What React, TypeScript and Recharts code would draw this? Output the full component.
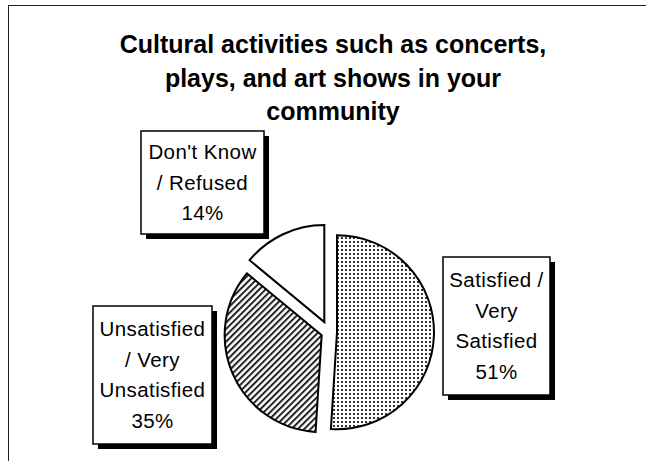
import { Cell, Pie, PieChart } from 'recharts'

const categories = ['Satisfied / Very Satisfied', 'Unsatisfied / Very Unsatisfied', "Don't Know / Refused"]
const shares = [51, 35, 14]
const labelLines = [
  ['Satisfied /', 'Very', 'Satisfied'],
  ['Unsatisfied', '/ Very', 'Unsatisfied'],
  ["Don't Know", '/ Refused'],
]
const titleLines = ['Cultural activities such as concerts,', 'plays, and art shows in your', 'community']

const slices = categories.map((name, i) => ({ name, value: shares[i] }))

// layout
const W = 646
const H = 461
const CX = 324
const CY = 327
const R = 97
const FILLS = ['url(#dots)', 'url(#stripes)', '#fff']
const EXPLODE = [8, 8, 11]
const BOXES = [
  { dx: 172.5, dy: -1, w: 107, h: 138 },
  { dx: -171.5, dy: 48, w: 119, h: 138 },
  { dx: -121.5, dy: -144.5, w: 123, h: 103 },
]
const FONT = '"Liberation Sans", Arial, sans-serif'

const total = shares.reduce((a, b) => a + b, 0)

// middle angle of a slice, pie starts at 12 o'clock and runs clockwise
function midAngle(i: number) {
  const before = shares.slice(0, i).reduce((a, b) => a + b, 0)
  return 90 - ((before + shares[i] / 2) / total) * 360
}

function renderLabel(props: any) {
  const { index, value } = props
  const b = BOXES[index]
  const mx = CX + b.dx
  const my = CY + b.dy
  const x = mx - b.w / 2
  const y = my - b.h / 2
  const lines = [...labelLines[index], `${value}%`]
  return (
    <g key={`label-${index}`}>
      <rect x={x + 5} y={y + 5} width={b.w} height={b.h} fill="#000" />
      <rect x={x} y={y} width={b.w} height={b.h} fill="#fff" stroke="#000" strokeWidth={1.5} />
      {lines.map((t, k) => (
        <text
          key={k}
          x={mx}
          y={my + (k - (lines.length - 1) / 2) * 30.5 + 7}
          textAnchor="middle"
          fontFamily={FONT}
          fontSize={20.5}
          letterSpacing={0.4}
          fill="#000"
        >
          {t}
        </text>
      ))}
    </g>
  )
}

export default function App() {
  return (
    <div style={{ position: 'absolute', left: 0, top: 0, width: W, height: H, background: '#fff', overflow: 'hidden' }}>
      <div
        style={{
          position: 'absolute',
          left: 8,
          top: 5,
          right: 0,
          bottom: 0,
          borderLeft: '1px solid #222',
          borderTop: '1px solid #222',
        }}
      />
      <div
        style={{
          position: 'absolute',
          left: 33,
          top: 28,
          width: 600,
          textAlign: 'center',
          fontFamily: FONT,
          fontWeight: 'bold',
          fontSize: 25,
          lineHeight: '33.5px',
          color: '#000',
        }}
      >
        {titleLines.map((t, i) => (
          <div key={i} style={{ whiteSpace: 'nowrap' }}>{t}</div>
        ))}
      </div>
      <div style={{ position: 'absolute', left: 0, top: 0 }}>
        <PieChart width={W} height={H}>
          <defs>
            <pattern id="dots" width={4} height={4} patternUnits="userSpaceOnUse">
              <rect width={4} height={4} fill="#fff" />
              <rect x={1} y={1} width={2} height={2} fill="#333" />
            </pattern>
            <pattern id="stripes" width={4.5} height={4.5} patternUnits="userSpaceOnUse" patternTransform="rotate(45)">
              <rect width={4.5} height={4.5} fill="#fff" />
              <rect width={2} height={4.5} fill="#222" />
            </pattern>
          </defs>
          {slices.map((s, i) => {
            const a = (midAngle(i) * Math.PI) / 180
            const last = i === slices.length - 1
            return (
              <Pie
                key={s.name}
                data={slices}
                dataKey="value"
                nameKey="name"
                cx={CX + EXPLODE[i] * Math.cos(a)}
                cy={CY - EXPLODE[i] * Math.sin(a)}
                outerRadius={R}
                startAngle={90}
                endAngle={-270}
                label={last ? renderLabel : false}
                labelLine={false}
                isAnimationActive={false}
              >
                {slices.map((c, j) => (
                  <Cell
                    key={c.name}
                    fill={j === i ? FILLS[j] : 'none'}
                    stroke={j === i ? '#000' : 'none'}
                    strokeWidth={2}
                  />
                ))}
              </Pie>
            )
          })}
        </PieChart>
      </div>
    </div>
  )
}
